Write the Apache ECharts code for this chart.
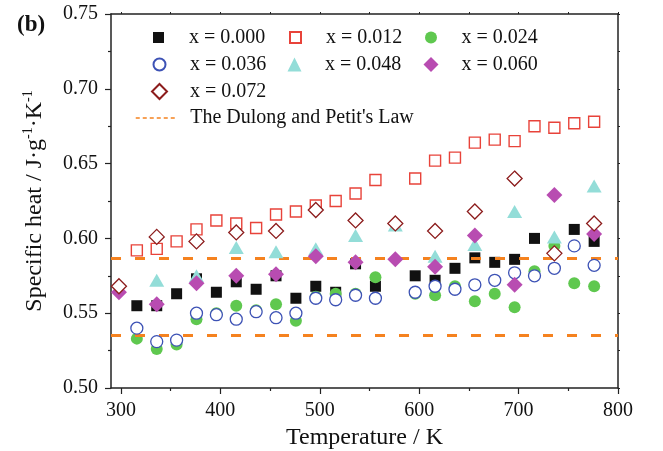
<!DOCTYPE html>
<html>
<head>
<meta charset="utf-8">
<script src="https://cdn.jsdelivr.net/npm/echarts@6/dist/echarts.min.js"></script>
<style>html,body{margin:0;padding:0;background:#fff;}#chart{width:663px;height:451px;}</style>
</head>
<body>
<div id="chart"></div>
<script>
// ---- data ----
const temperatures = [298,316,336,356,376,396,416,436,456,476,496,516,536,556,576,596,616,636,656,676,696,716,736,756,776];
const x000 = [null,0.555,0.555,0.563,0.573,0.564,0.571,0.566,0.575,0.560,0.568,0.564,0.583,0.568,null,0.575,0.572,0.580,0.587,0.584,0.586,0.600,null,0.606,0.598];
const x012 = [null,0.592,0.593,0.598,0.606,0.612,0.610,0.607,0.616,0.618,0.622,0.625,0.630,0.639,null,0.640,0.652,0.654,0.664,0.666,0.665,0.675,0.674,0.677,0.678];
const x024 = [null,0.533,0.526,0.529,0.546,0.550,0.555,0.552,0.556,0.545,0.561,0.563,0.563,0.574,null,0.563,0.562,0.568,0.558,0.563,0.554,0.578,0.595,0.570,0.568];
const x036 = [null,0.540,0.531,0.532,0.550,0.549,0.546,0.551,0.547,0.550,0.560,0.559,0.562,0.560,null,0.564,0.568,0.566,0.569,0.572,0.577,0.575,0.580,0.595,0.582];
const x048 = [null,null,0.572,null,0.575,null,0.594,null,0.591,null,0.593,null,0.602,null,0.609,null,0.588,null,0.596,null,0.618,null,0.601,null,0.635];
const x060 = [0.564,null,0.556,null,0.570,null,0.575,null,0.576,null,0.588,null,0.584,null,0.586,null,0.581,null,0.602,null,0.569,null,0.629,null,0.603];
const x072 = [0.568,null,0.601,null,0.598,null,0.604,null,0.605,null,0.619,null,0.612,null,0.610,null,0.605,null,0.618,null,0.640,null,0.590,null,0.610];
const dulongPetit = [0.587, 0.535];
const seriesNames = ['x = 0.000','x = 0.012','x = 0.024','x = 0.036','x = 0.048','x = 0.060','x = 0.072'];
const lawName = "The Dulong and Petit's Law";
const xMajorTicks = [300,400,500,600,700,800];
const xMinorTicks = [350,450,550,650,750];
const xAllTicks = [300,350,400,450,500,550,600,650,700,750,800];

// ---- styles ----
const FONT = "'Liberation Serif','Times New Roman',serif";
const TXT = '#111';
const AX = '#222';
const ORANGE = '#f5821f';
const styles = [
  {symbol:'rect', size:11, itemStyle:{color:'#111111', opacity:1}},
  {symbol:'rect', size:11, itemStyle:{color:'#ffffff', borderColor:'#e8433a', borderWidth:1.4, opacity:1}},
  {symbol:'circle', size:12, itemStyle:{color:'#5fc84f', opacity:1}},
  {symbol:'circle', size:12, itemStyle:{color:'#ffffff', borderColor:'#3d52b5', borderWidth:1.3, opacity:1}},
  {symbol:'triangle', size:[15,13], itemStyle:{color:'#93ddd8', opacity:1}},
  {symbol:'diamond', size:16, itemStyle:{color:'#b84cb1', opacity:1}},
  {symbol:'diamond', size:15, itemStyle:{color:'#ffffff', borderColor:'#8c1c1c', borderWidth:1.3, opacity:1}}
];
const allData = [x000,x012,x024,x036,x048,x060,x072];

function pairs(vals){
  const out = [];
  vals.forEach((v,i)=>{ if(v!==null) out.push([temperatures[i], v]); });
  return out;
}

const series = allData.map((vals,k)=>({
  name: seriesNames[k], type:'scatter', xAxisIndex:0, yAxisIndex:0,
  symbol: styles[k].symbol, symbolSize: styles[k].size,
  itemStyle: styles[k].itemStyle, data: pairs(vals), z: 2 + k,
  emphasis:{disabled:true}
}));
series.push({
  name: lawName, type:'line', xAxisIndex:0, yAxisIndex:0, data: [], symbol:'none', z: 20,
  lineStyle:{color:ORANGE, width:1.5, type:[4,3]}, itemStyle:{color:ORANGE},
  markLine:{
    silent:true, symbol:['none','none'], label:{show:false}, animation:false, precision:4,
    lineStyle:{color:ORANGE, width:3, type:[10,14]},
    data: dulongPetit.map(v=>({yAxis:v}))
  }
});

// legend layout: [name, symbol center x, center y, symbol size]
const legendPos = [
  [seriesNames[0],158.5,37.5,11],[seriesNames[1],294.5,37.5,11],[seriesNames[2],431,37.5,12],
  [seriesNames[3],158.5,64.5,12],[seriesNames[4],294.5,64.5,14],[seriesNames[5],431,64.5,15],
  [seriesNames[6],158.5,91.5,15]
];
const legends = legendPos.map(p=>({
  data:[p[0]], left: p[1]-p[3]/2, top: p[2]-10, itemWidth:p[3], itemHeight:p[3], padding:0,
  selectedMode:false,
  textStyle:{fontFamily:FONT, fontSize:20, color:TXT, lineHeight:20, padding:[0,0,0,30.5-p[3]/2-5]}
}));
legends.push({
  data:[lawName], left:135, top:118-10, itemWidth:42, itemHeight:10, padding:0, selectedMode:false,
  lineStyle:{color:ORANGE, width:1.5, type:[4,3]}, itemStyle:{opacity:0},
  textStyle:{fontFamily:FONT, fontSize:20, color:TXT, lineHeight:20, padding:[0,0,0,7.5]}
});

const gridBox = {left:111, right:45, top:14, bottom:63, containLabel:false, outerBoundsMode:'none'};
const axisLineStyle = {show:true, lineStyle:{color:AX, width:1.5}};

const option = {
  animation:false,
  title:{text:'(b)', left:12, top:9, textStyle:{fontFamily:FONT, fontSize:23, fontWeight:'bold', color:TXT}},
  legend: legends,
  grid:[Object.assign({}, gridBox), Object.assign({}, gridBox)],
  xAxis:[
    {type:'value', gridIndex:0, position:'bottom', min:290, max:800,
     axisLine:axisLineStyle,
     axisTick:{show:true, inside:false, length:6, customValues:xMajorTicks, lineStyle:{color:AX, width:1.2}},
     axisLabel:{customValues:xMajorTicks, fontFamily:FONT, fontSize:20, color:TXT, margin:13},
     splitLine:{show:false},
     name:'Temperature / K', nameLocation:'middle', nameGap:37,
     nameTextStyle:{fontFamily:FONT, fontSize:24, color:TXT}},
    {type:'value', gridIndex:0, position:'top', min:290, max:800,
     axisLine:axisLineStyle,
     axisTick:{show:true, inside:false, length:2, customValues:xAllTicks, lineStyle:{color:AX, width:1}},
     axisLabel:{show:false}, splitLine:{show:false}},
    {type:'value', gridIndex:1, position:'bottom', min:290, max:800,
     axisLine:{show:false},
     axisTick:{show:true, inside:false, length:3, customValues:xMinorTicks, lineStyle:{color:AX, width:1.2}},
     axisLabel:{show:false}, splitLine:{show:false}}
  ],
  yAxis:[
    {type:'value', gridIndex:0, position:'left', min:0.5, max:0.75, interval:0.05,
     axisLine:axisLineStyle,
     axisTick:{show:true, inside:false, length:6, lineStyle:{color:AX, width:1.2}},
     minorTick:{show:true, splitNumber:2, length:3, lineStyle:{color:AX, width:1.2}},
     axisLabel:{fontFamily:FONT, fontSize:20, color:TXT, margin:13, formatter:v=>v.toFixed(2)},
     splitLine:{show:false}, minorSplitLine:{show:false},
     name:'{b|Specific heat / J·g}{s|-1}{b|·K}{s|-1}', nameLocation:'middle', nameGap:64,
     nameTextStyle:{fontFamily:FONT, color:TXT,
       rich:{b:{fontFamily:FONT, fontSize:24, color:TXT, lineHeight:26, verticalAlign:'bottom'},
             s:{fontFamily:FONT, fontSize:14, color:TXT, lineHeight:14, verticalAlign:'top'}}}},
    {type:'value', gridIndex:0, position:'right', min:0.5, max:0.75, interval:0.05,
     axisLine:axisLineStyle,
     axisTick:{show:true, inside:false, length:2, lineStyle:{color:AX, width:1}},
     minorTick:{show:true, splitNumber:2, length:2, lineStyle:{color:AX, width:1}},
     axisLabel:{show:false}, splitLine:{show:false}, minorSplitLine:{show:false}},
    {type:'value', gridIndex:1, min:0.5, max:0.75, show:false}
  ],
  series: series
};

const chart = echarts.init(document.getElementById('chart'), null, {renderer:'canvas'});
chart.setOption(option);
</script>
</body>
</html>
